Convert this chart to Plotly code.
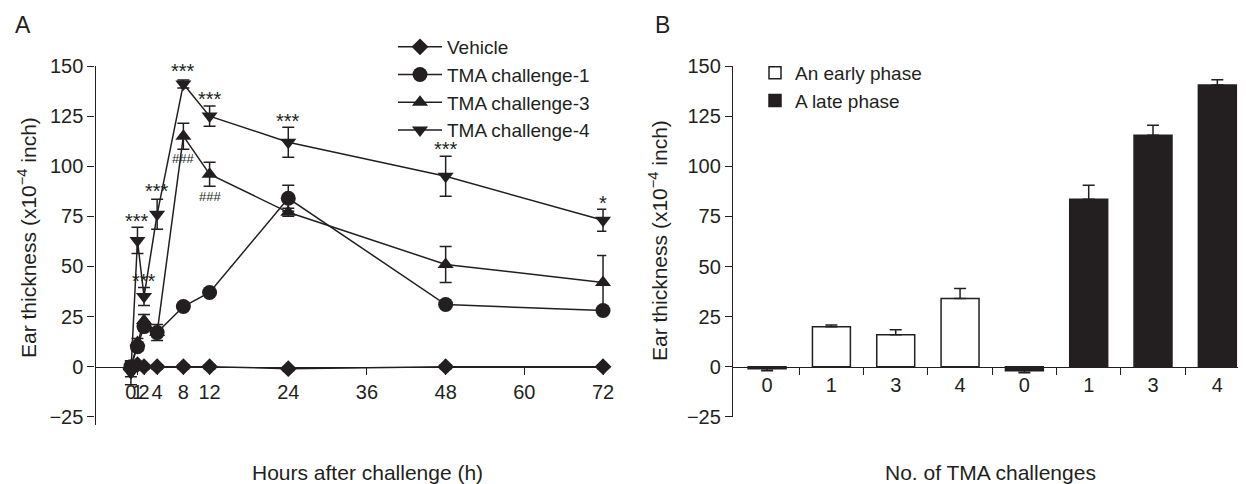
import plotly.graph_objects as go

# ---------------- data ----------------
hours = [0, 1, 2, 4, 8, 12, 24, 48, 72]
hour_tick_vals = [0, 1, 2, 4, 8, 12, 24, 36, 48, 60, 72]
hour_tick_text = ["0", "1", "2", "4", "8", "12", "24", "36", "48", "60", "72"]

vehicle = [-1, 1, 0, 0, 0, 0, -1, 0, 0]
vehicle_err = [4, 1, 1, 1, 1, 1, 1, 1, 1]
tma1 = [0, 10, 20, 17, 30, 37, 84, 31, 28]
tma1_err = [2, 2, 2, 2, 1, 1, 6.5, 1, 1]
tma3 = [0, 12, 23, 17, 115, 96, 77, 51, 42]
tma3_err = [2, 2, 3, 4, 6.5, 6, 2, 9, 13.5]
tma4 = [-3, 63, 35, 76, 141, 125, 112, 95, 73]
tma4_err = [6, 6.5, 4.5, 7.5, 2, 5, 7.5, 10, 5.5]

series_names = ["Vehicle", "TMA challenge-1", "TMA challenge-3", "TMA challenge-4"]

sig_x = [1, 2, 4, 8, 12, 24, 48, 72]
sig_y = [75, 45, 90, 150, 136, 125, 111, 84]
sig_text = ["***", "***", "***", "***", "***", "***", "***", "*"]
hash_x = [8, 12]
hash_y = [104, 85]
hash_text = ["###", "###"]

bar_labels = ["0", "1", "3", "4", "0", "1", "3", "4"]
early = [-1, 20, 16, 34]
early_err = [1, 0.8, 2.5, 5]
late = [-2, 83.5, 115.5, 140.5]
late_err = [1, 7, 5, 2.7]
bar_series_names = ["An early phase", "A late phase"]

y_ticks = [-25, 0, 25, 50, 75, 100, 125, 150]

# ---------------- layout helpers ----------------
OFF = 8                      # page body margin of the html page
W, H = 1246 - OFF, 484 - OFF
FONT = "Liberation Sans, Arial, sans-serif"
INK = "#231f20"


def px(x):
    return (x - OFF) / W


def py(y):
    return 1 - (y - OFF) / H


fig = go.Figure()

symbols = ["diamond", "circle", "triangle-up", "triangle-down"]
sizes = [13, 15, 14, 14]
for name, vals, errs, sym, sz in zip(series_names, [vehicle, tma1, tma3, tma4],
                                     [vehicle_err, tma1_err, tma3_err, tma4_err],
                                     symbols, sizes):
    fig.add_trace(go.Scatter(
        x=hours, y=vals, name=name, mode="lines+markers",
        line=dict(color=INK, width=1.5),
        marker=dict(symbol=sym, size=sz, color=INK),
        error_y=dict(type="data", array=errs, visible=True, color=INK,
                     thickness=1.5, width=6),
        cliponaxis=False, xaxis="x", yaxis="y", legend="legend",
    ))

early_idx = list(range(len(early)))
late_idx = [len(early) + i for i in range(len(late))]

for name, idx, vals, errs, fill in zip(bar_series_names, [early_idx, late_idx],
                                       [early, late], [early_err, late_err],
                                       ["white", INK]):
    fig.add_trace(go.Bar(
        x=idx, y=vals, name=name, width=0.59,
        marker=dict(color=fill, line=dict(color=INK, width=1.5)),
        error_y=dict(type="data", symmetric=False,
                     array=[e if v >= 0 else 0 for v, e in zip(vals, errs)],
                     arrayminus=[e if v < 0 else 0 for v, e in zip(vals, errs)],
                     color=INK, thickness=1.5, width=6),
        xaxis="x2", yaxis="y2", legend="legend2", cliponaxis=False,
    ))

axis_common = dict(showgrid=False, zeroline=False, showline=True, linecolor=INK,
                   linewidth=1.3, ticks="outside", tickcolor=INK, tickwidth=1.3,
                   ticklen=7, tickfont=dict(family=FONT, size=20, color=INK),
                   automargin=False)

x0_left = 95.5
x1_left = 606.3
y_top = 66
y_bot_left = 424.8
y_bot_right = 416.9
zero_y = 366.7
x0_right = 733
x1_right = 1245

fig.update_layout(
    width=W, height=H, template="none",
    margin=dict(l=0, r=0, t=0, b=0),
    paper_bgcolor="white", plot_bgcolor="rgba(0,0,0,0)",
    font=dict(family=FONT, size=20, color=INK),
    barmode="overlay",
    xaxis=dict(axis_common, domain=[px(x0_left), px(x1_left)], range=[-5.4, 72.5],
               anchor="free", position=py(zero_y), tickangle=0,
               tickmode="array", tickvals=hour_tick_vals, ticktext=hour_tick_text),
    yaxis=dict(axis_common, domain=[py(y_bot_left), py(y_top)], range=[-29, 150],
               anchor="x", tickmode="array", tickvals=y_ticks),
    xaxis2=dict(axis_common, domain=[px(x0_right), px(x1_right)], range=[-0.53, 7.43],
                anchor="free", position=py(zero_y), ticks="", tickangle=0,
                tickmode="array", tickvals=list(range(len(bar_labels))), ticktext=bar_labels,
                minor=dict(tickmode="array",
                           tickvals=[i + 0.5 for i in range(len(bar_labels) - 1)],
                           ticks="outside", ticklen=7, tickwidth=1.3, tickcolor=INK)),
    yaxis2=dict(axis_common, domain=[py(y_bot_right), py(y_top)], range=[-25, 150],
                anchor="x2", tickmode="array", tickvals=y_ticks),
    legend=dict(x=px(393), y=py(28), xanchor="left", yanchor="top",
                font=dict(family=FONT, size=19, color=INK), bgcolor="rgba(0,0,0,0)",
                itemwidth=44, tracegroupgap=0),
    legend2=dict(x=px(755), y=py(54), xanchor="left", yanchor="top",
                 font=dict(family=FONT, size=19, color=INK), bgcolor="rgba(0,0,0,0)",
                 itemwidth=30),
)

annotations = []
for xv, yv, t in zip(sig_x, sig_y, sig_text):
    annotations.append(dict(x=xv, y=yv, xref="x", yref="y", text=t, showarrow=False,
                            xanchor="center", yanchor="middle",
                            yshift=-5, font=dict(family=FONT, size=20, color=INK)))
for xv, yv, t in zip(hash_x, hash_y, hash_text):
    annotations.append(dict(x=xv, y=yv, xref="x", yref="y", text=t, showarrow=False,
                            xanchor="center", yanchor="middle",
                            font=dict(family=FONT, size=13, color=INK)))

title_font = dict(family=FONT, size=21, color=INK)
paper_texts = [
    (23, 25, "A", 0, 23),
    (662, 25, "B", 0, 23),
    (27, 238, "Ear thickness (x10<sup>−4</sup> inch)", -90, 21),
    (658, 241, "Ear thickness (x10<sup>−4</sup> inch)", -90, 21),
    (367.5, 472, "Hours after challenge (h)", 0, 21),
    (990, 472, "No. of TMA challenges", 0, 21),
]
for x_, y_, t, ang, fs in paper_texts:
    annotations.append(dict(x=px(x_), y=py(y_), xref="paper", yref="paper", text=t,
                            textangle=ang, showarrow=False, xanchor="center",
                            yanchor="middle", font=dict(family=FONT, size=fs, color=INK)))
fig.update_layout(annotations=annotations)

fig.write_html("out.html")
